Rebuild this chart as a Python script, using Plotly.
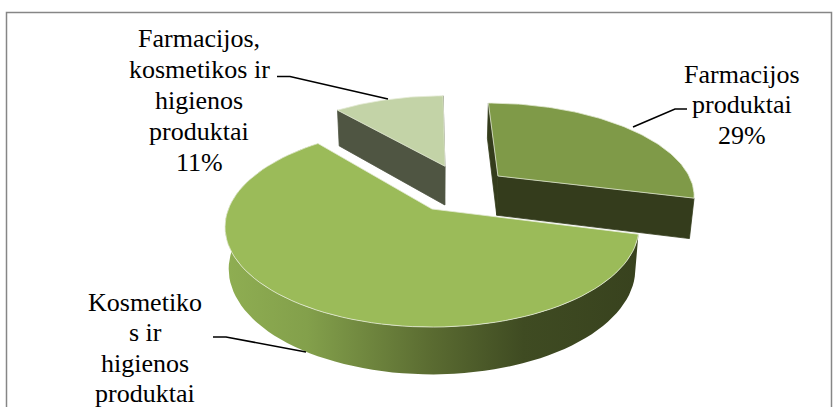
import numpy as np
import plotly.graph_objects as go

# Shares of each product group, clockwise from twelve o'clock
categories = ["Farmacijos produktai", "Kosmetikos ir higienos produktai",
              "Farmacijos, kosmetikos ir higienos produktai"]
shares = [29, 60, 11]

# Label text, one entry per printed line
label_lines = [
    ["Farmacijos", "produktai", "29%"],
    ["Kosmetiko", "s ir", "higienos", "produktai"],
    ["Farmacijos,", "kosmetikos ir", "higienos", "produktai", "11%"],
]
label_x = [742, 145, 199]
label_y0 = [74, 302, 38]
LINE_STEP = [30.5, 30.5, 31]

# Leader lines from label to slice
leaders = [
    ([687, 675, 633], [109, 109, 127]),
    ([213, 226, 306], [337, 337, 352]),
    ([277, 290, 388], [76.5, 76.5, 99]),
]

# Slice styling and how far each one is pulled out in the pie's own plane
top_colors = ["#7F9A48", "#9BBB59", "#C3D3A7"]
wall_colors = ["#343C1C", "#343C1C", "#4F5542"]
explode_u = [0.345, 0.0, 0.069]
explode_v = [0.363, 0.0, 0.48]

# Perspective of the pie: top rim plane and bottom rim plane
CX = 432
PERSP = 0.18
TOP = dict(a=203.6, b=96.8, y0=209)
BOTTOM = dict(a=200, b=102, y0=250)


def project(u, v, plane):
    """Map a point of the pie's plane (radius 1) to canvas coordinates."""
    w = 1 + PERSP * np.asarray(v, dtype=float)
    return CX + plane["a"] * np.asarray(u) / w, plane["y0"] - plane["b"] * np.asarray(v) / w


def rim(start, stop, du, dv, n=90):
    t = np.radians(np.linspace(start, stop, n))
    return np.sin(t) + du, np.cos(t) + dv


def polygon(px, py, color, line=None, gradient=None):
    trace = dict(x=list(px) + [px[0]], y=list(py) + [py[0]], mode="lines", fill="toself",
                 hoverinfo="skip", showlegend=False,
                 line=dict(color=line or color, width=0.8))
    if gradient:
        trace["fillgradient"] = gradient
    else:
        trace["fillcolor"] = color
    return go.Scatter(**trace)


# Slice boundaries in degrees
edges = np.concatenate([[0], np.cumsum(shares)]) * 3.6

fig = go.Figure()

# Back slices first, the large front slice last
for i in (2, 0, 1):
    a0, a1 = edges[i], edges[i + 1]
    du, dv = explode_u[i], explode_v[i]
    ru, rv = rim(a0, a1, du, dv)

    if i == 1:
        # Outer wall, shaded from left to right
        tx, ty = project(ru, rv, TOP)
        bx, by = project(ru, rv, BOTTOM)
        wx = np.concatenate([tx, bx[::-1]])
        wy = np.concatenate([ty, by[::-1]])
        fig.add_trace(polygon(
            wx, wy, "#5F7334", line="rgba(0,0,0,0)",
            gradient=dict(type="horizontal", start=224, stop=640, colorscale=[
                [0.0, "#8FAE52"], [0.2, "#83A04B"], [0.5, "#5A6B31"],
                [0.72, "#3F4B22"], [1.0, "#38421E"]])))
    else:
        # Cut faces that look toward the viewer
        order = (a1, a0) if i == 0 else (a0, a1)
        for ang in order:
            eu = np.array([du, du + np.sin(np.radians(ang))])
            ev = np.array([dv, dv + np.cos(np.radians(ang))])
            tx, ty = project(eu, ev, TOP)
            bx, by = project(eu, ev, BOTTOM)
            fig.add_trace(polygon([tx[0], tx[1], bx[1], bx[0]],
                                  [ty[0], ty[1], by[1], by[0]], wall_colors[i]))

    # Top face
    pu = np.concatenate([[du], ru])
    pv = np.concatenate([[dv], rv])
    px, py = project(pu, pv, TOP)
    fig.add_trace(polygon(px, py, top_colors[i], line="#E4EBD6"))

# Leader lines
for lx, ly in leaders:
    fig.add_trace(go.Scatter(x=lx, y=ly, mode="lines", hoverinfo="skip", showlegend=False,
                             line=dict(color="#000000", width=1.6)))

# Labels, placed line by line
for lines, x, y0, step in zip(label_lines, label_x, label_y0, LINE_STEP):
    for k, text in enumerate(lines):
        fig.add_annotation(x=x, y=y0 + k * step, text=text, showarrow=False,
                           xanchor="center", yanchor="middle",
                           font=dict(family="Liberation Serif", size=26, color="#000000"))

fig.update_layout(
    width=838, height=407,
    margin=dict(l=0, r=0, t=0, b=0),
    paper_bgcolor="#FFFFFF", plot_bgcolor="#FFFFFF",
    xaxis=dict(range=[0, 838], visible=False),
    yaxis=dict(range=[407, 0], visible=False),
    shapes=[dict(type="rect", xref="x", yref="y", x0=6.5, x1=831.5, y0=12.5, y1=420,
                 line=dict(color="#868686", width=1.5), layer="below")],
)

fig.write_html("out.html")
